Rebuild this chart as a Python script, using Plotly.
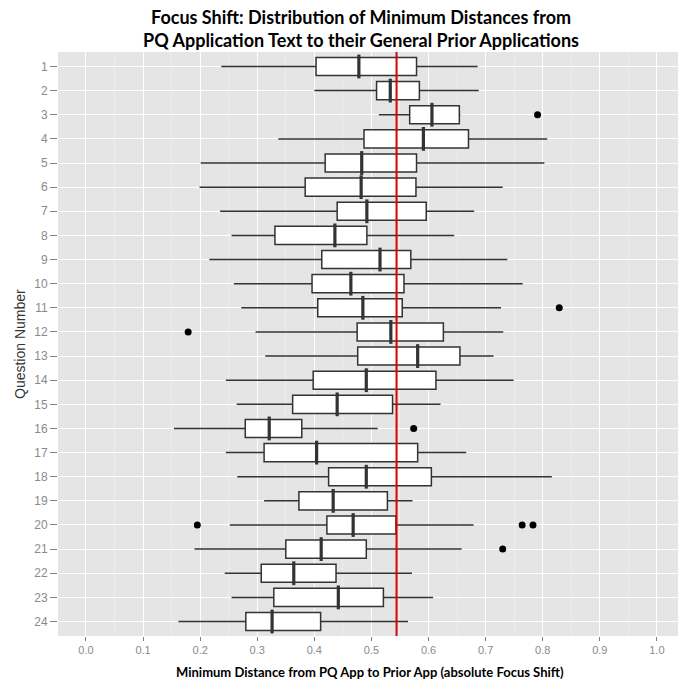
import plotly.graph_objects as go

questions = [str(i) for i in range(1, 25)]
lower_whisker = [0.237, 0.400, 0.513, 0.337, 0.201, 0.199, 0.235, 0.255, 0.216, 0.259, 0.272, 0.297,
                 0.314, 0.245, 0.264, 0.154, 0.245, 0.265, 0.312, 0.252, 0.190, 0.243, 0.255, 0.162]
q1_vals = [0.403, 0.509, 0.567, 0.487, 0.419, 0.384, 0.440, 0.331, 0.413, 0.396, 0.406, 0.475,
           0.476, 0.398, 0.362, 0.279, 0.312, 0.425, 0.373, 0.422, 0.350, 0.307, 0.329, 0.280]
median_vals = [0.478, 0.533, 0.606, 0.591, 0.483, 0.482, 0.492, 0.436, 0.515, 0.464, 0.485, 0.534,
               0.581, 0.491, 0.440, 0.321, 0.404, 0.491, 0.433, 0.468, 0.412, 0.364, 0.442, 0.326]
q3_vals = [0.579, 0.584, 0.654, 0.670, 0.579, 0.578, 0.596, 0.492, 0.569, 0.557, 0.554, 0.626,
           0.655, 0.613, 0.537, 0.378, 0.581, 0.605, 0.528, 0.543, 0.491, 0.438, 0.521, 0.411]
upper_whisker = [0.686, 0.688, 0.656, 0.808, 0.803, 0.730, 0.680, 0.645, 0.738, 0.765, 0.727, 0.731,
                 0.714, 0.749, 0.621, 0.511, 0.666, 0.816, 0.572, 0.679, 0.658, 0.571, 0.608, 0.564]
outlier_questions = ["3", "11", "12", "16", "20", "20", "20", "21"]
outlier_values = [0.791, 0.829, 0.179, 0.574, 0.195, 0.764, 0.783, 0.730]
reference_value = 0.544

x_ticks = [i / 10 for i in range(11)]
x_tick_labels = [f"{v:.1f}" for v in x_ticks]

title_line1 = "Focus Shift: Distribution of Minimum Distances from"
title_line2 = "PQ Application Text to their General Prior Applications"
x_title = "Minimum Distance from PQ App to Prior App (absolute Focus Shift)"
y_title = "Question Number"

box_color = "#333333"

fig = go.Figure()
fig.add_trace(go.Box(
    y=questions, q1=q1_vals, median=median_vals, q3=q3_vals,
    lowerfence=lower_whisker, upperfence=upper_whisker,
    orientation="h", width=0.75, whiskerwidth=0,
    fillcolor="white", line=dict(color=box_color, width=1.5),
    boxpoints=False, showlegend=False, hoverinfo="skip",
))
# thicker median bars (ggplot fatten)
fig.add_trace(go.Scatter(
    x=median_vals, y=questions, mode="markers",
    marker=dict(symbol="line-ns", size=17, line=dict(color=box_color, width=3.2)),
    showlegend=False, hoverinfo="skip",
))
fig.add_trace(go.Scatter(
    x=outlier_values, y=outlier_questions, mode="markers",
    marker=dict(color="black", size=7),
    showlegend=False, hoverinfo="skip",
))
fig.add_shape(type="line", xref="x", yref="paper", x0=reference_value, x1=reference_value,
              y0=0, y1=1, line=dict(color="#DD0000", width=2))

title_font = dict(family="Lato, sans-serif", size=18, color="black", weight="bold")

fig.update_layout(
    width=678, height=683,
    margin=dict(l=58, r=0, t=52, b=47),
    paper_bgcolor="white", plot_bgcolor="#E5E5E5",
    font=dict(family="Liberation Sans, Arial, sans-serif", color="#7F7F7F"),
    xaxis=dict(
        range=[-0.049, 1.037], tickvals=x_ticks, ticktext=x_tick_labels,
        showgrid=True, gridcolor="white", gridwidth=1.3,
        minor=dict(dtick=0.05, showgrid=True, gridcolor="#EDEDED", gridwidth=0.6),
        zeroline=False, ticks="outside", ticklen=4, tickcolor="#7F7F7F",
        tickfont=dict(size=11, color="#8A8A8A"), showline=False,
    ),
    yaxis=dict(
        type="category", categoryorder="array", categoryarray=questions,
        range=[23.6, -0.6], showgrid=True, gridcolor="white", gridwidth=1.3,
        zeroline=False, ticks="outside", ticklen=7, tickcolor="#7F7F7F",
        tickfont=dict(size=12, color="#8A8A8A"), showline=False,
    ),
    annotations=[
        dict(text=title_line1, xref="paper", yref="paper", x=(361 - 58) / 620, y=1,
             yshift=35, showarrow=False, xanchor="center", yanchor="middle", font=title_font),
        dict(text=title_line2, xref="paper", yref="paper", x=(361 - 58) / 620, y=1,
             yshift=12, showarrow=False, xanchor="center", yanchor="middle", font=title_font),
        dict(text=y_title, xref="paper", yref="paper", x=0, y=0.5,
             xshift=-38, textangle=-90, showarrow=False, xanchor="center", yanchor="middle",
             font=dict(family="Liberation Sans, Arial, sans-serif", size=14, color="#333333")),
        dict(text="<b>" + x_title + "</b>",
             xref="paper", yref="paper", x=0.503, y=0, yshift=-36, showarrow=False,
             xanchor="center", yanchor="middle",
             font=dict(family="Lato, sans-serif", size=13, color="black")),
    ],
)

fig.write_html("out.html", config={"displayModeBar": False},
               post_script="document.body.style.margin='0';document.body.style.overflow='hidden';")
